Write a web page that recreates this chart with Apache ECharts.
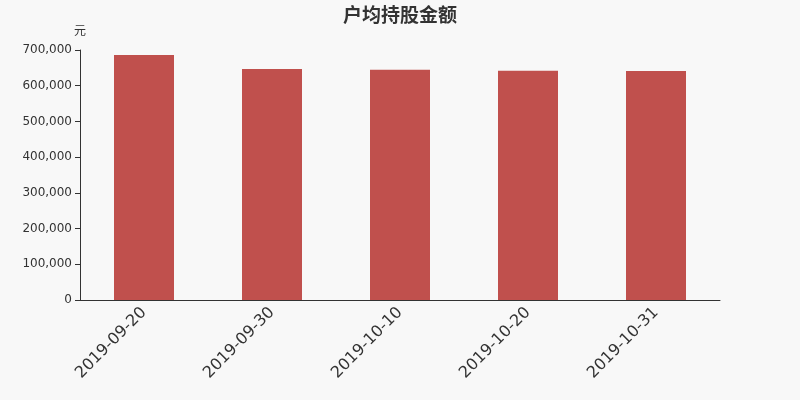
<!DOCTYPE html>
<html><head><meta charset="utf-8">
<script src="https://cdn.jsdelivr.net/npm/echarts@6/dist/echarts.min.js"></script>
<style>html,body{margin:0;padding:0;background:#f8f8f8}#c{width:800px;height:400px}</style>
</head><body><div id="c"></div>
<script>
const categories = ['2019-09-20','2019-09-30','2019-10-10','2019-10-20','2019-10-31'];
const values = [686000, 646500, 645000, 642000, 641000];
const chart = echarts.init(document.getElementById('c'));
chart.setOption({
  backgroundColor:'#f8f8f8',
  textStyle:{fontFamily:'DejaVu Sans'},
  title:{text:'户均持股金额',left:'center',top:0,textStyle:{fontSize:19,fontWeight:'bold',color:'#333',fontFamily:'Noto Sans CJK SC'}},
  grid:{left:80,right:80,top:50,bottom:100},
  xAxis:{type:'category',data:categories,
    axisLine:{lineStyle:{color:'#333'}},axisTick:{alignWithLabel:false,lineStyle:{color:'#333'}},
    axisLabel:{rotate:45,fontSize:16,color:'#333',margin:10,fontFamily:'DejaVu Sans'}},
  yAxis:{type:'value',min:0,max:700000,interval:100000,name:'元',
    nameTextStyle:{color:'#333',fontSize:12,padding:[0,0,0,0],fontFamily:'Noto Sans CJK SC'},nameGap:14,
    axisLine:{show:true,lineStyle:{color:'#333'}},axisTick:{show:true},
    splitLine:{show:false},
    axisLabel:{color:'#333',fontSize:12,margin:8,fontFamily:'DejaVu Sans',formatter:v=>v.toLocaleString('en-US')}},
  series:[{type:'bar',data:values,barWidth:60,itemStyle:{color:'#c0504d'}}]
});
</script></body></html>
